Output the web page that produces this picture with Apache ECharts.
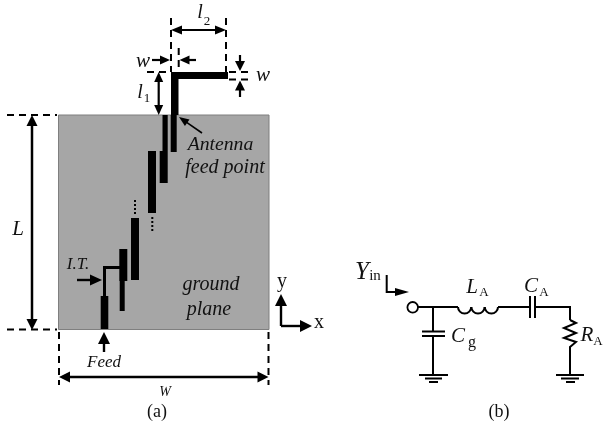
<!DOCTYPE html>
<html><head><meta charset="utf-8">
<style>html,body{margin:0;padding:0;background:#fff}#c{width:603px;height:425px}canvas{filter:blur(.45px)}</style>
<script src="https://cdn.jsdelivr.net/npm/echarts@6/dist/echarts.min.js"></script>
</head><body><div id="c"></div>
<script>
// x0, y0, x1, y1
const groundPlane = [[58.5,115,269,329.5]];
const strips = [
 [171,72,228,79],[171,72,178.5,115],[170.7,115,176.7,152],
 [162.5,115,167.7,151],[159.7,151,167.7,183],[148,151,156,213],
 [131,218,139,280],[119.3,249,127.3,281],[119.7,281,124.7,311],
 [100.7,296,108.3,329]
];
// polyline points, width
const feedLine = [[[104.5,296],[104.5,267.5],[120,267.5]]];
const circuitLines = [
 [[418,307],[458,307]],[[498,307],[530,307]],[[535,307],[570,307],[570,320]],
 [[570,320],[576,323],[564,328],[576,333],[564,338],[576,342],[570,347],[570,375]],
 [[433,307],[433,331.5]],[[433,336],[433,375]],
 [[422,331.5],[445,331.5]],[[422,336],[445,336]],
 [[530,296],[530,318]],[[535,296],[535,318]],
 [[419,375],[448,375]],[[425,378.5],[442,378.5]],[[429,382],[438,382]],
 [[556,375],[584,375]],[[561,378.5],[579,378.5]],[[566,382],[575,382]],
 [[386.7,275],[386.7,292],[396,292]]
];
const inductorHumps = [[464.6,307,6.6],[478,307,6.6],[491.4,307,6.6]];
const terminal = [[412.7,307.3,5.3]];
const dashed = [
 [[7,115],[57,115]],[[7,329.5],[57,329.5]],
 [[59,332],[59,385]],[[268.5,332],[268.5,385]],
 [[171,18],[171,72]],[[226,18],[226,72]],[[178.7,48],[178.7,72]],
 [[147,72],[171,72]],[[229,72],[250,72]],[[229,79.5],[250,79.5]]
];
const dotted = [[[135,200],[135,216]],[[152.3,217],[152.3,232]]];
// x0,y0,x1,y1(tip),shaft width,head length,head width
const arrows = [
 [32,125,32,115,2.5,11,11],[32,320,32,330,2.5,11,11],[32,120,32,325,2.5,0,0],
 [65,377,59,377,2.5,11,11],[262,377,268.5,377,2.5,11,11],[64,377,263,377,2.5,0,0],
 [175,30,171,30,2.2,11,9],[222,30,226,30,2.2,11,9],[176,30,221,30,2.2,0,0],
 [152,60,170,60,2.2,10,9],[196,60,179.5,60,2.2,10,9],
 [158.7,80,158.7,72,2.2,10,9],[158.7,107,158.7,115,2.2,10,9],[158.7,78,158.7,109,2.2,0,0],
 [240,55,240,71,2.2,10,10],[240,97,240,80.5,2.2,10,10],
 [202,133,179,117,1.6,10,8],
 [77,280,102,280,2.4,12,11],[104,352,104,332,2.4,12,12],
 [281,326,281,294,2.4,12,12],[281,326,312,326,2.4,12,12],
 [396,292,409,292,1.2,14,8]
];
// text, x, y, size, italic
const labels = [
 ['l',200,13,20,1],['2',207,22,13,0],
 ['w',143,61,21,1],['w',263,75,21,1],
 ['l',140,93,20,1],['1',147,99,13,0],
 ['Antenna',220.5,145,19.7,1],['feed point',225,168,20,1],
 ['L',18,229,21,1],['I.T.',78,265,17,1],
 ['ground',211,285,20,1],['plane',209,310,20,1],
 ['Feed',104,363,17,1],['W',165,392,14,1],['(a)',157,412,18,0],
 ['y',282,282,20,0],['x',319,323,20,0],
 ['Y',362,272,25,1],['in',375,276,15,0],
 ['L',472,287,21,1],['A',484,293,13,0],
 ['C',531,286,21,1],['A',544,293,13,0],
 ['C',458,336,21,1],['g',472,343,16,0],
 ['R',587,335,21,1],['A',598,342,13,0],
 ['(b)',499,412,18,0]
];
const INK='#000';
const FONT='"Liberation Serif"';
function pts(api,p){return p.map(q=>api.coord(q));}
function rectSeries(arr,fill,stroke){return {type:'custom',coordinateSystem:'cartesian2d',silent:true,clip:false,animation:false,
 data:arr.map(r=>r.slice()),
 renderItem(p,api){const a=api.coord([api.value(0),api.value(1)]),b=api.coord([api.value(2),api.value(3)]);
  return {type:'rect',shape:{x:a[0],y:a[1],width:b[0]-a[0],height:b[1]-a[1]},style:{fill,stroke:stroke||null,lineWidth:stroke?1:0}};}};}
function lineSeries(arr,width,dash){return {type:'custom',coordinateSystem:'cartesian2d',silent:true,clip:false,animation:false,
 data:arr.map(l=>l[0]),
 renderItem(p,api){return {type:'polyline',shape:{points:pts(api,arr[p.dataIndex])},style:{fill:null,stroke:INK,lineWidth:width,lineDash:dash||null}};}};}
const arrowSeries={type:'custom',coordinateSystem:'cartesian2d',silent:true,clip:false,animation:false,
 data:arrows.map(a=>a.slice(0,4)),
 renderItem(p,api){const [x0,y0,x1,y1,w,hl,hw]=arrows[p.dataIndex];
  const a=api.coord([x0,y0]),b=api.coord([x1,y1]);
  const d=Math.hypot(b[0]-a[0],b[1]-a[1]),ux=(b[0]-a[0])/d,uy=(b[1]-a[1])/d;
  const ch=[{type:'line',shape:{x1:a[0],y1:a[1],x2:b[0]-ux*hl*.8,y2:b[1]-uy*hl*.8},style:{stroke:INK,lineWidth:w}}];
  if(hl>0){const bx=b[0]-ux*hl,by=b[1]-uy*hl,nx=-uy*hw/2,ny=ux*hw/2;
   ch.push({type:'polygon',shape:{points:[b,[bx+nx,by+ny],[bx-nx,by-ny]]},style:{fill:INK}});}
  return {type:'group',children:ch};}};
const humpSeries={type:'custom',coordinateSystem:'cartesian2d',silent:true,clip:false,animation:false,
 data:inductorHumps.map(h=>h.slice()),
 renderItem(p,api){const c=api.coord([api.value(0),api.value(1)]);
  return {type:'arc',shape:{cx:c[0],cy:c[1],r:api.value(2),startAngle:0,endAngle:Math.PI,clockwise:true},style:{fill:null,stroke:INK,lineWidth:2}};}};
const termSeries={type:'custom',coordinateSystem:'cartesian2d',silent:true,clip:false,animation:false,
 data:terminal.map(h=>h.slice()),
 renderItem(p,api){const c=api.coord([api.value(0),api.value(1)]);
  return {type:'circle',shape:{cx:c[0],cy:c[1],r:api.value(2)},style:{fill:'#fff',stroke:INK,lineWidth:1.8}};}};
const textSeries={type:'custom',coordinateSystem:'cartesian2d',silent:true,clip:false,animation:false,
 data:labels.map(l=>[l[1],l[2]]),
 renderItem(p,api){const l=labels[p.dataIndex];const c=api.coord([l[1],l[2]]);
  return {type:'text',x:c[0],y:c[1],style:{text:l[0],fill:'#111',align:'center',verticalAlign:'middle',
   font:(l[4]?'italic ':'')+l[3]+'px '+FONT}};}};
const chart=echarts.init(document.getElementById('c'),null,{renderer:'canvas'});
const hidden={type:'value',show:false,scale:false};
chart.setOption({animation:false,backgroundColor:'#fff',
 grid:{left:0,right:0,top:0,bottom:0,containLabel:false},
 xAxis:Object.assign({},hidden,{min:0,max:603}),
 yAxis:Object.assign({},hidden,{min:0,max:425,inverse:true}),
 series:[
  rectSeries(groundPlane,'#a6a6a6','#7f7f7f'),
  rectSeries(strips,'#000'),
  lineSeries(feedLine,3),
  lineSeries(circuitLines,2),
  humpSeries,termSeries,
  lineSeries(dashed,2,[7,5]),
  lineSeries(dotted,2,[2,2]),
  arrowSeries,textSeries
 ]});
</script></body></html>
